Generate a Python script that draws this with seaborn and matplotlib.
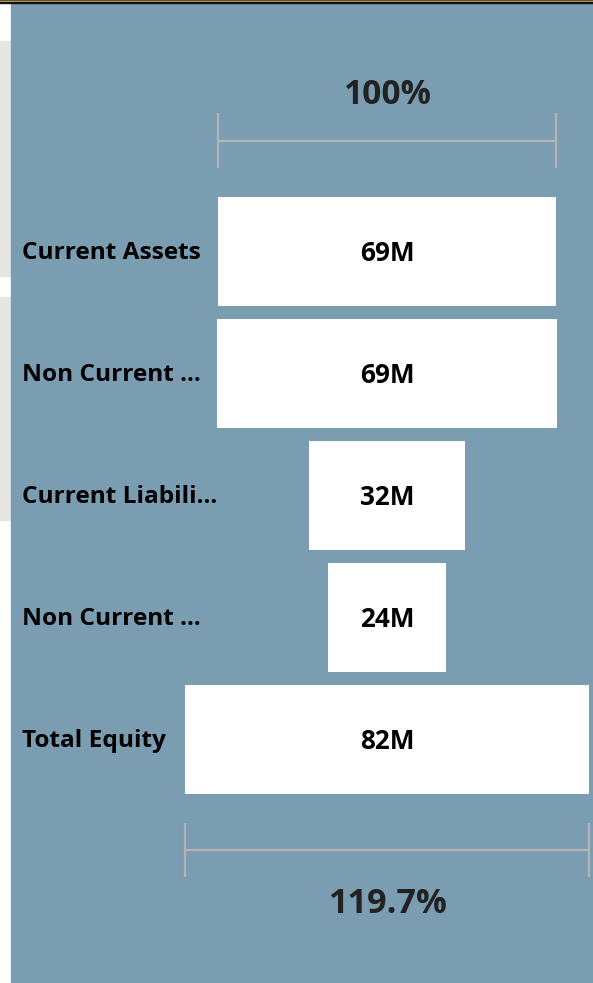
import numpy as np
import pandas as pd
import matplotlib
matplotlib.use("Agg")
import matplotlib.pyplot as plt
import matplotlib.transforms as mtransforms
from matplotlib.patches import Rectangle
from matplotlib.colors import to_rgb
import seaborn as sns

# funnel data (values in millions)
stages = ["Current Assets", "Non Current Assets", "Current Liabilities",
          "Non Current Liabilities", "Total Equity"]
stage_labels = ["Current Assets", "Non Current ...", "Current Liabili...",
                "Non Current ...", "Total Equity"]
amounts = [68.5, 69.0, 31.7, 24.0, 82.0]
value_labels = ["69M", "69M", "32M", "24M", "82M"]
top_pct = "100%"
bottom_pct = "119.7%"

panel_blue = "#7a9db2"

sns.set_style("white")
plt.rcParams["font.family"] = ["Open Sans", "DejaVu Sans"]

fig = plt.figure(figsize=(5.93, 9.83), dpi=100)

# background (screenshot frame), pixel coordinates
bg = fig.add_axes([0, 0, 1, 1], zorder=0)
bg.set_xlim(0, 593)
bg.set_ylim(983, 0)
bg.axis("off")
bg.add_patch(Rectangle((0, 0), 593, 983, color="white"))
bg.add_patch(Rectangle((0, 41), 11, 235, color="#e6e6e6"))
bg.add_patch(Rectangle((0, 297), 11, 223, color="#e6e6e6"))
bg.add_patch(Rectangle((11, 3), 582, 980, color=panel_blue))


def vgradient(c_top, c_bot, n=64):
    a, b = np.array(to_rgb(c_top)), np.array(to_rgb(c_bot))
    t = np.linspace(0, 1, n)[:, None]
    return (a + (b - a) * t)[:, None, :]


bg.imshow(vgradient("#c2c2c2", "#ffffff"), extent=[0, 11, 41, 3], aspect="auto")
bg.imshow(vgradient("#5b7484", panel_blue), extent=[11, 593, 34, 3], aspect="auto")
bg.add_patch(Rectangle((0, 0), 593, 1, color="#3a3a3a"))
bg.add_patch(Rectangle((0, 1), 593, 1, color="#d8b552"))
bg.add_patch(Rectangle((0, 2), 593, 1.2, color="#111111"))
bg.set_xlim(0, 593)
bg.set_ylim(983, 0)

# funnel
ax = fig.add_axes([11 / 593, 0, 582 / 593, 980 / 983], zorder=1)
df = pd.DataFrame({"stage": stages, "amount": amounts})
sns.barplot(data=df, x="amount", y="stage", orient="h", color="white",
            saturation=1, width=0.893, errorbar=None, linewidth=0, ax=ax)
for bar in ax.patches:
    bar.set_x(-bar.get_width() / 2)

ax.set_xlim(-76.3, 41.8)
ax.set_ylim(5.996, -2.037)
ax.axis("off")

for i, val in enumerate(value_labels):
    ax.text(0, i + 0.02, val, ha="center", va="center", fontsize=18.8,
            fontweight="bold", color="black")

lab_tr = mtransforms.blended_transform_factory(ax.transAxes, ax.transData)
for i, lab in enumerate(stage_labels):
    ax.text(11 / 582, i + 0.015, lab, transform=lab_tr, ha="left", va="center",
            fontsize=17.6, fontweight="bold", color="black")

# conversion brackets
line_c = "#b4b4b4"
first, last = amounts[0], amounts[-1]
for w, y in [(first, -0.908), (last, 4.906)]:
    ax.plot([-w / 2, w / 2], [y, y], color=line_c, lw=1.6, solid_capstyle="butt")
    ax.vlines([-w / 2, w / 2], y - 0.225, y + 0.225, color=line_c, lw=1.6)

ax.text(0, -1.285, top_pct, ha="center", va="center", fontsize=24.2,
        fontweight="bold", color="#222222")
ax.text(0, 5.35, bottom_pct, ha="center", va="center", fontsize=24.7,
        fontweight="bold", color="#222222")

fig.savefig("out.png", dpi=100)
